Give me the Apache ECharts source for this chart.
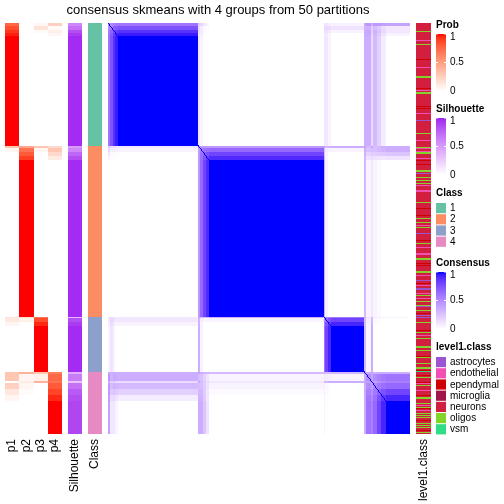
<!DOCTYPE html>
<html><head><meta charset="utf-8">
<script src="https://cdn.jsdelivr.net/npm/echarts@6/dist/echarts.min.js"></script>
<style>html,body{margin:0;padding:0;background:#fff}#c{width:504px;height:504px}</style>
</head><body><div id="c"></div><script>
const titleText = 'consensus skmeans with 4 groups from 50 partitions';
const probColumns = ['p1', 'p2', 'p3', 'p4'];
const silColumn = ['Silhouette'];
const classColumn = ['Class'];
const level1Column = ['level1.class'];
const classNames = ['1', '2', '3', '4'];
const classColors = ['#66C2A5', '#FC8D62', '#8DA0CB', '#E78AC3'];
const level1Names = ['astrocytes', 'endothelial', 'ependymal', 'microglia', 'neurons', 'oligos', 'vsm'];
const level1Colors = ['#9B55D2', '#F24FB6', '#D00000', '#A0164A', '#D31F3F', '#80D42A', '#2FDD84'];
const legendTicks = ['1', '0.5', '0'];

// rows of each group, top to bottom: [rowCount, p1, p2, p3, p4, silhouette]
const group1Prob = [[3, 0.75, 0, 0.05, 0.25, 0.6], [4, 0.85, 0, 0.15, 0.03, 0.7], [3, 0.92, 0, 0.03, 0.08, 0.85], [3, 0.96, 0, 0, 0.04, 0.92], [110, 1, 0, 0, 0, 0.97]];
const group2Prob = [[2, 0.3, 0.45, 0.3, 0.2, 0.5], [4, 0.05, 0.7, 0.05, 0.3, 0.6], [4, 0, 0.8, 0, 0.2, 0.75], [4, 0, 0.9, 0, 0.1, 0.85], [157, 0, 1, 0, 0, 0.97]];
const group3Prob = [[1, 0.15, 0.2, 0.7, 0, 0.35], [4, 0.12, 0.08, 0.85, 0, 0.85], [4, 0.05, 0, 0.95, 0, 0.92], [46, 0, 0, 1, 0, 0.97]];
const group4Prob = [[2, 0.3, 0.4, 0.3, 0.65, 0.4], [7, 0.3, 0.05, 0.08, 0.75, 0.65], [2, 0, 0.1, 0.4, 0.7, 0.3], [6, 0.25, 0.05, 0, 0.8, 0.7], [6, 0.12, 0.02, 0, 0.88, 0.8], [6, 0.05, 0, 0, 0.95, 0.85], [33, 0, 0, 0, 1, 0.88]];

// consensus affinity of the same rows to each group: [rowCount, c1, c2, c3, c4]
const group1Cons = [[3, 0.6, 0, 0.05, 0.4], [4, 0.75, 0, 0.12, 0.1], [3, 0.88, 0, 0.05, 0.1], [3, 0.95, 0, 0, 0.05], [110, 1, 0, 0, 0]];
const group2Cons = [[2, 0.1, 0.45, 0.35, 0.35], [4, 0.05, 0.65, 0.05, 0.35], [4, 0, 0.8, 0, 0.25], [4, 0, 0.9, 0, 0.12], [157, 0, 1, 0, 0]];
const group3Cons = [[1, 0.1, 0.35, 0.6, 0.05], [4, 0.1, 0.05, 0.8, 0], [4, 0.05, 0, 0.92, 0], [46, 0, 0, 1, 0]];
const group4Cons = [[2, 0.35, 0.3, 0.3, 0.35], [7, 0.35, 0.05, 0.05, 0.6], [2, 0.15, 0.1, 0.35, 0.55], [6, 0.3, 0.05, 0, 0.65], [6, 0.2, 0.02, 0, 0.8], [6, 0.08, 0, 0, 0.92], [33, 0, 0, 0, 1]];

// level1.class: rows that are not neurons [rowIndex, class]
const level1Other = [[8,'oligos'],[17,'endothelial'],[21,'oligos'],[36,'ependymal'],[44,'endothelial'],[53,'oligos'],[54,'oligos'],[65,'ependymal'],[67,'endothelial'],[69,'oligos'],[70,'oligos'],[83,'ependymal'],[85,'ependymal'],[90,'endothelial'],[97,'astrocytes'],[110,'oligos'],[117,'endothelial'],
[124,'oligos'],[125,'endothelial'],[128,'endothelial'],[129,'oligos'],[130,'oligos'],[135,'endothelial'],[137,'ependymal'],[141,'ependymal'],[147,'oligos'],[148,'oligos'],[150,'astrocytes'],[154,'oligos'],[157,'oligos'],[160,'oligos'],[162,'endothelial'],[167,'endothelial'],[168,'endothelial'],[179,'oligos'],[185,'ependymal'],[192,'ependymal'],[195,'oligos'],[199,'oligos'],[202,'endothelial'],[204,'oligos'],[210,'astrocytes'],[217,'ependymal'],[220,'oligos'],[224,'endothelial'],[230,'endothelial'],[231,'endothelial'],[235,'oligos'],[236,'oligos'],[240,'ependymal'],[242,'ependymal'],[248,'oligos'],[249,'oligos'],[252,'endothelial'],[257,'astrocytes'],[260,'ependymal'],[262,'endothelial'],[265,'astrocytes'],[266,'astrocytes'],[270,'endothelial'],[272,'oligos'],[275,'endothelial'],[278,'oligos'],[282,'oligos'],[283,'astrocytes'],[287,'oligos'],[290,'ependymal'],[292,'astrocytes'],
[294,'astrocytes'],[299,'oligos'],[307,'ependymal'],[309,'oligos'],[312,'endothelial'],[315,'oligos'],[323,'oligos'],[324,'oligos'],[327,'oligos'],[333,'ependymal'],[334,'oligos'],[340,'oligos'],[344,'oligos'],[345,'oligos'],[347,'ependymal'],[348,'vsm'],
[352,'ependymal'],[354,'oligos'],[359,'ependymal'],[360,'endothelial'],[362,'oligos'],[367,'endothelial'],[372,'ependymal'],[374,'oligos'],[375,'oligos'],[380,'oligos'],[382,'endothelial'],[384,'oligos'],[385,'ependymal'],[387,'endothelial'],[390,'oligos'],[392,'oligos'],[394,'oligos'],[397,'ependymal'],[400,'oligos'],[402,'oligos'],[404,'oligos'],[407,'ependymal'],[409,'oligos']];

// ---------- build tables ----------
const probGroups = [group1Prob, group2Prob, group3Prob, group4Prob];
const consGroups = [group1Cons, group2Cons, group3Cons, group4Cons];
function segList(groups) {
  const out = []; let pos = 0;
  groups.forEach((g, gi) => g.forEach(s => { out.push({ start: pos, end: pos + s[0], vals: s.slice(1), group: gi }); pos += s[0]; }));
  return out;
}
const probSegs = segList(probGroups);
const consSegs = segList(consGroups);
const groupSizes = probGroups.map(g => g.reduce((a, s) => a + s[0], 0));
const N = groupSizes.reduce((a, b) => a + b, 0);

const probData = [], silData = [], classData = [], consData = [], l1Data = [];
probSegs.forEach(s => {
  for (let k = 0; k < 4; k++) probData.push([k, s.start, s.end, s.vals[k]]);
  silData.push([0, s.start, s.end, s.vals[4]]);
});
let gpos = 0;
groupSizes.forEach((n, gi) => { classData.push([0, gpos, gpos + n, gi]); gpos += n; });
const level1 = new Array(N).fill(level1Names.indexOf('neurons'));
level1Other.forEach(([i, c]) => { level1[i] = level1Names.indexOf(c); });
for (let i = 0; i < N; i++) l1Data.push([0, i, i + 1, level1[i]]);
consSegs.forEach(a => consSegs.forEach(b => {
  let v = 0; for (let k = 0; k < 4; k++) v += a.vals[k] * b.vals[k];
  consData.push([b.start, b.end, a.start, a.end, Math.min(1, v)]);
}));
for (let i = 0; i < N; i++) consData.push([i, i + 1, i, i + 1, 1]);

// ---------- LAB colour ramps ----------
function lin(c) { c /= 255; return c <= 0.04045 ? c / 12.92 : Math.pow((c + 0.055) / 1.055, 2.4); }
function gam(c) { c = Math.max(0, Math.min(1, c)); return Math.round(255 * (c <= 0.0031308 ? 12.92 * c : 1.055 * Math.pow(c, 1 / 2.4) - 0.055)); }
const Xn = 0.95047, Yn = 1, Zn = 1.08883;
function f(t) { return t > 0.008856 ? Math.cbrt(t) : 7.787 * t + 16 / 116; }
function finv(t) { return t > 0.206893 ? t * t * t : (t - 16 / 116) / 7.787; }
function hexToLab(h) {
  const r = lin(parseInt(h.substr(1, 2), 16)), g = lin(parseInt(h.substr(3, 2), 16)), b = lin(parseInt(h.substr(5, 2), 16));
  const X = 0.4124 * r + 0.3576 * g + 0.1805 * b, Y = 0.2126 * r + 0.7152 * g + 0.0722 * b, Z = 0.0193 * r + 0.1192 * g + 0.9505 * b;
  const fx = f(X / Xn), fy = f(Y / Yn), fz = f(Z / Zn);
  return [116 * fy - 16, 500 * (fx - fy), 200 * (fy - fz)];
}
function labToHex(L, a, b) {
  const fy = (L + 16) / 116, fx = fy + a / 500, fz = fy - b / 200;
  const X = Xn * finv(fx), Y = Yn * finv(fy), Z = Zn * finv(fz);
  const r = 3.2406 * X - 1.5372 * Y - 0.4986 * Z, g = -0.9689 * X + 1.8758 * Y + 0.0415 * Z, bb = 0.0557 * X - 0.2040 * Y + 1.0570 * Z;
  return 'rgb(' + gam(r) + ',' + gam(g) + ',' + gam(bb) + ')';
}
function ramp(hi, n) {
  const a = hexToLab('#FFFFFF'), b = hexToLab(hi), out = [];
  for (let i = 0; i < n; i++) { const t = i / (n - 1); out.push(labToHex(a[0] + (b[0] - a[0]) * t, a[1] + (b[1] - a[1]) * t, a[2] + (b[2] - a[2]) * t)); }
  return out;
}
const probRamp = ramp('#FF0000', 21), silRamp = ramp('#A020F0', 21), consRamp = ramp('#0000FF', 21);

// ---------- layout ----------
const TOP = 23, H = 411;
const grids = [
  { left: 5, width: 57 }, { left: 68, width: 14 }, { left: 88, width: 14 }, { left: 108, width: 302 }, { left: 416, width: 15 }
].map(g => ({ left: g.left, width: g.width, top: TOP, height: H }));
const xCats = [probColumns, silColumn, classColumn, null, level1Column];
const labelFont = { fontFamily: 'Liberation Sans, Arial, sans-serif', fontSize: 12, color: '#000' };
const xAxes = xCats.map((cats, gi) => cats ? ({
  type: 'category', gridIndex: gi, data: cats, position: 'bottom',
  axisLine: { show: false }, axisTick: { show: false }, splitLine: { show: false },
  axisLabel: Object.assign({ rotate: 90, margin: 5, interval: 0 }, labelFont)
}) : ({ type: 'value', gridIndex: gi, min: 0, max: N, show: false }));
const yAxes = grids.map((_, gi) => ({ type: 'value', gridIndex: gi, min: 0, max: N, inverse: true, show: false }));

function annoItem(params, api) {
  const c = api.value(0), p0 = api.coord([c, api.value(1)]), p1 = api.coord([c, api.value(2)]);
  const w = api.size([1, 0])[0];
  const x0 = Math.round(p0[0] - w / 2), x1 = Math.round(p0[0] + w / 2);
  const ya = Math.round(Math.min(p0[1], p1[1])), yb = Math.round(Math.max(p0[1], p1[1]));
  return { type: 'rect', shape: { x: x0, y: ya, width: x1 - x0, height: Math.max(1, yb - ya) }, style: { fill: api.visual('color') } };
}
function consItem(params, api) {
  const p0 = api.coord([api.value(0), api.value(2)]), p1 = api.coord([api.value(1), api.value(3)]);
  const xa = Math.round(Math.min(p0[0], p1[0])), xb = Math.round(Math.max(p0[0], p1[0]));
  const ya = Math.round(Math.min(p0[1], p1[1])), yb = Math.round(Math.max(p0[1], p1[1]));
  return { type: 'rect', shape: { x: xa, y: ya, width: Math.max(1, xb - xa), height: Math.max(1, yb - ya) }, style: { fill: api.visual('color') } };
}

// ---------- legends (graphic) ----------
const LX = 436;
const graphic = [];
const legFont = '10px Liberation Sans, Arial, sans-serif';
const legBold = 'bold 10px Liberation Sans, Arial, sans-serif';
graphic.push({ type: 'text', style: { text: titleText, x: 218, y: 10, align: 'center', verticalAlign: 'middle', font: '13px Liberation Sans, Arial, sans-serif', fill: '#000' } });
function gradLegend(title, titleY, barTop, barBot, colors) {
  graphic.push({ type: 'text', style: { text: title, x: LX, y: titleY, verticalAlign: 'middle', font: legBold, fill: '#000' } });
  const stops = colors.map((c, i) => ({ offset: 1 - i / (colors.length - 1), color: c })).reverse();
  graphic.push({ type: 'rect', shape: { x: LX, y: barTop, width: 10, height: barBot - barTop }, style: { fill: new echarts.graphic.LinearGradient(0, 0, 0, 1, stops) } });
  legendTicks.forEach((t, i) => {
    const yy = barTop + (barBot - barTop) * i / 2;
    const ty = Math.min(Math.max(yy, barTop + 3), barBot);
    graphic.push({ type: 'line', shape: { x1: LX, y1: yy, x2: LX + 2, y2: yy }, style: { stroke: '#fff', lineWidth: 1 } });
    graphic.push({ type: 'line', shape: { x1: LX + 8, y1: yy, x2: LX + 10, y2: yy }, style: { stroke: '#fff', lineWidth: 1 } });
    graphic.push({ type: 'text', style: { text: t, x: LX + 14, y: ty, verticalAlign: 'middle', font: legFont, fill: '#000' } });
  });
}
function discLegend(title, titleY, top, names, colors) {
  graphic.push({ type: 'text', style: { text: title, x: LX, y: titleY, verticalAlign: 'middle', font: legBold, fill: '#000' } });
  names.forEach((n, i) => {
    const yy = top + i * 11.2;
    graphic.push({ type: 'rect', shape: { x: LX, y: yy, width: 10, height: 10.2 }, style: { fill: colors[i] } });
    graphic.push({ type: 'text', style: { text: n, x: LX + 14, y: yy + 5.5, verticalAlign: 'middle', font: legFont, fill: '#000' } });
  });
}
gradLegend('Prob', 25, 34, 91, probRamp);
gradLegend('Silhouette', 109, 118, 175, silRamp);
discLegend('Class', 193, 203, classNames, classColors);
gradLegend('Consensus', 263, 272, 329, consRamp);
discLegend('level1.class', 347, 357, level1Names, level1Colors);

const chart = echarts.init(document.getElementById('c'), null, { renderer: 'canvas' });
chart.setOption({
  animation: false,
  backgroundColor: '#fff',
  grid: grids,
  xAxis: xAxes,
  yAxis: yAxes,
  visualMap: [
    { type: 'continuous', show: false, min: 0, max: 1, dimension: 3, seriesIndex: 0, inRange: { color: probRamp } },
    { type: 'continuous', show: false, min: 0, max: 1, dimension: 3, seriesIndex: 1, inRange: { color: silRamp } },
    { type: 'piecewise', show: false, dimension: 3, seriesIndex: 2, pieces: classNames.map((n, i) => ({ value: i, color: classColors[i] })) },
    { type: 'continuous', show: false, min: 0, max: 1, dimension: 4, seriesIndex: 3, inRange: { color: consRamp } },
    { type: 'piecewise', show: false, dimension: 3, seriesIndex: 4, pieces: level1Names.map((n, i) => ({ value: i, color: level1Colors[i] })) }
  ],
  series: [
    { type: 'custom', xAxisIndex: 0, yAxisIndex: 0, data: probData, renderItem: annoItem, encode: { x: 0, y: [1, 2] } },
    { type: 'custom', xAxisIndex: 1, yAxisIndex: 1, data: silData, renderItem: annoItem, encode: { x: 0, y: [1, 2] } },
    { type: 'custom', xAxisIndex: 2, yAxisIndex: 2, data: classData, renderItem: annoItem, encode: { x: 0, y: [1, 2] } },
    { type: 'custom', xAxisIndex: 3, yAxisIndex: 3, data: consData, renderItem: consItem, encode: { x: [0, 1], y: [2, 3] } },
    { type: 'custom', xAxisIndex: 4, yAxisIndex: 4, data: l1Data, renderItem: annoItem, encode: { x: 0, y: [1, 2] } }
  ],
  graphic: graphic
});
</script></body></html>
